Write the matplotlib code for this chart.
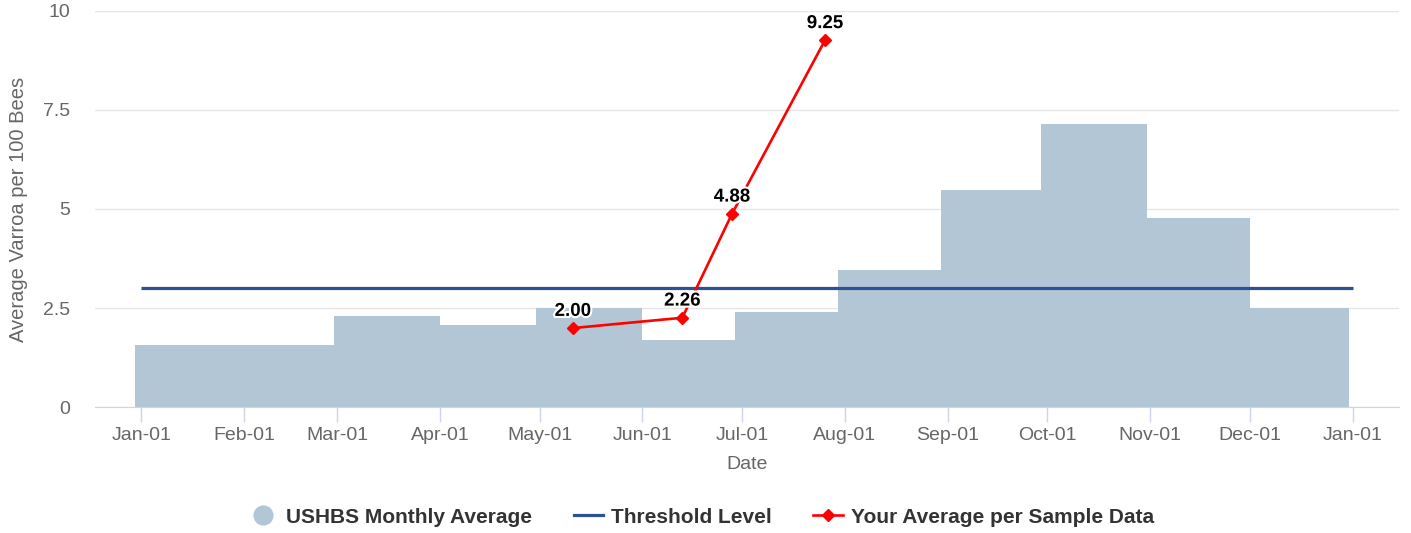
import pandas as pd
import matplotlib
matplotlib.use("Agg")
import matplotlib.pyplot as plt
import matplotlib.dates as mdates
import matplotlib.patheffects as pe
from matplotlib.lines import Line2D

plt.rcParams["font.family"] = ["Liberation Sans", "DejaVu Sans"]

# USHBS monthly averages, drawn as steps between these edges
step_edges = ["2018-12-30", "2019-02-01", "2019-02-28", "2019-04-01", "2019-04-30",
              "2019-06-01", "2019-06-29", "2019-07-30", "2019-08-30", "2019-09-29",
              "2019-10-31", "2019-12-01", "2019-12-31"]
ushbs_avg = [1.57, 1.57, 2.30, 2.07, 2.50, 1.69, 2.40, 3.47, 5.49, 7.14, 4.77, 2.51]

# threshold level
threshold_dates = ["2019-01-01", "2020-01-01"]
threshold = [3, 3]

# your average per sample
sample_dates = ["2019-05-11", "2019-06-13", "2019-06-28", "2019-07-26"]
sample_avg = [2.00, 2.26, 4.88, 9.25]

month_ticks = pd.date_range("2019-01-01", "2020-01-01", freq="MS")

fill_col = "#b3c6d5"
thr_col = "#2d5196"
red = "#ff0000"
txt = "#666666"

fig = plt.figure(figsize=(14.11, 5.33), dpi=100)
ax = fig.add_axes([0.0673, 0.2355, 0.9242, 0.7448])

edges = pd.to_datetime(step_edges)
ax.fill_between(edges, ushbs_avg + [ushbs_avg[-1]], step="post", color=fill_col,
                lw=0, zorder=1)
ax.plot(pd.to_datetime(threshold_dates), threshold, color=thr_col, lw=2.3,
        solid_capstyle="butt", zorder=2)
sd = pd.to_datetime(sample_dates)
ax.plot(sd, sample_avg, color=red, lw=1.9, marker="D", ms=6, zorder=3)
for d, v in zip(sd, sample_avg):
    ax.annotate(f"{v:.2f}", (d, v), xytext=(0, 12), textcoords="offset points",
                ha="center", va="center", fontsize=13.5, fontweight="bold",
                color="black", zorder=4,
                path_effects=[pe.withStroke(linewidth=3, foreground="white")])

ax.set_xlim(pd.Timestamp("2018-12-18"), pd.Timestamp("2020-01-15"))
ax.set_ylim(0, 10)
ax.set_yticks([0, 2.5, 5, 7.5, 10])
ax.set_yticklabels(["0", "2.5", "5", "7.5", "10"])
ax.set_xticks(month_ticks)
ax.xaxis.set_major_formatter(mdates.DateFormatter("%b-%d"))

ax.yaxis.grid(True, color="#e6e6e6", lw=1)
ax.set_axisbelow(True)
for s in ["top", "right", "left"]:
    ax.spines[s].set_visible(False)
ax.spines["bottom"].set_color("#ccd6eb")
ax.tick_params(axis="x", length=11, width=1, color="#ccd6eb", pad=3,
               labelsize=14, labelcolor=txt)
ax.tick_params(axis="y", length=0, pad=18, labelsize=14, labelcolor=txt)

ax.set_xlabel("Date", fontsize=14, color=txt)
ax.set_ylabel("Average Varroa per 100 Bees", fontsize=14.5, color=txt)
ax.xaxis.set_label_coords(0.5, -0.122)
ax.yaxis.set_label_coords(-0.051, 0.5)

handles = [
    Line2D([], [], ls="none", marker="o", ms=13.5, color=fill_col),
    Line2D([], [], color=thr_col, lw=2.3),
    Line2D([], [], color=red, lw=1.9, marker="D", ms=6),
]
labels = ["USHBS Monthly Average", "Threshold Level", "Your Average per Sample Data"]
leg = fig.legend(handles, labels, loc="center", bbox_to_anchor=(0.497, 0.030),
                 ncol=3, frameon=False, handlelength=1.4, handletextpad=0.4,
                 columnspacing=2.0, prop={"size": 15, "weight": "bold"})
for t in leg.get_texts():
    t.set_color("#333333")

fig.savefig("out.png", dpi=100)
